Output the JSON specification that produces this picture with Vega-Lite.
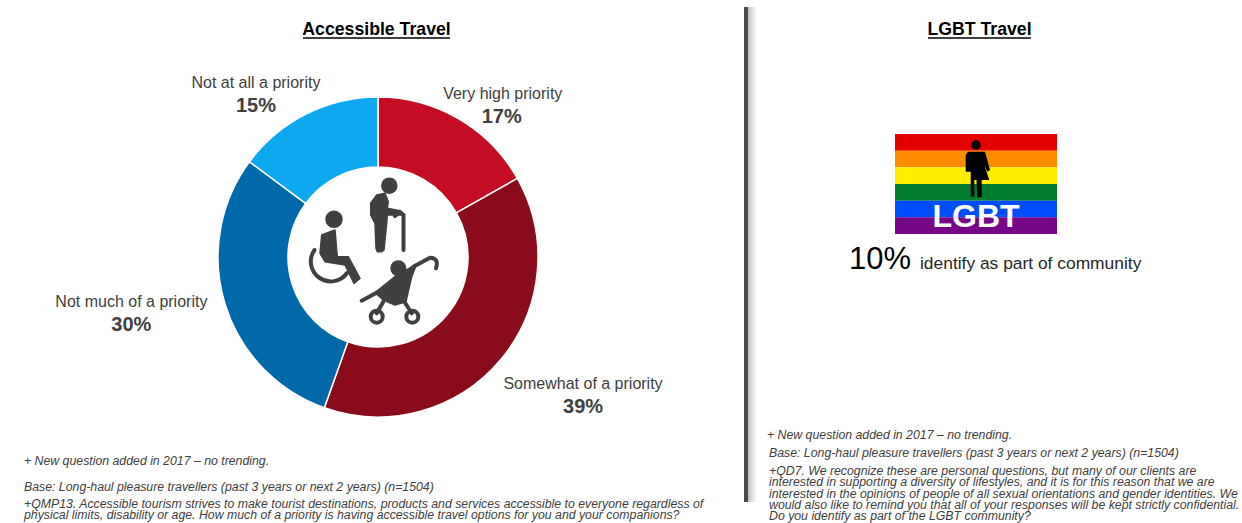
{
"$schema":"https://vega.github.io/schema/vega-lite/v6.json",
"background":"white",
"padding":{"left":12,"top":7,"right":0,"bottom":0},
"config":{"view":{"stroke":null},"text":{"font":"Liberation Sans"}},
"spacing":0,
"resolve":{"scale":{"color":"independent"}},
"hconcat":[
{"spacing":0,"vconcat":[
 {"width":732,"height":57,
  "data":{"values":[{"heading":"Accessible Travel"}]},
  "layer":[
   {"mark":{"type":"text","fontSize":17.7,"fontWeight":"bold","color":"#000000","baseline":"middle"},
    "encoding":{"x":{"datum":364.5,"type":"quantitative","scale":{"domain":[0,732],"nice":false},"axis":null},"y":{"datum":22.5,"type":"quantitative","scale":{"domain":[57,0],"nice":false},"axis":null},"text":{"field":"heading"}}},
   {"mark":{"type":"rule","color":"#000000","strokeWidth":1.5},
    "encoding":{"x":{"datum":291,"type":"quantitative","scale":{"domain":[0,732],"nice":false},"axis":null},"x2":{"datum":438},"y":{"datum":31,"type":"quantitative","scale":{"domain":[57,0],"nice":false},"axis":null}}}
  ]},
 {"width":732,"height":386,
  "data":{"values":[
   {"segment":"Very high priority","rank":1,"share":17,"label":"17%"},
   {"segment":"Somewhat of a priority","rank":2,"share":39,"label":"39%"},
   {"segment":"Not much of a priority","rank":3,"share":30,"label":"30%"},
   {"segment":"Not at all a priority","rank":4,"share":15,"label":"15%"}
  ]},
  "encoding":{"theta":{"field":"share","type":"quantitative","stack":true},"order":{"field":"rank","type":"ordinal"}},
  "layer":[
   {"mark":{"type":"arc","outerRadius":160,"innerRadius":90,"stroke":"#ffffff","strokeWidth":1.5},
    "encoding":{"color":{"field":"segment","type":"nominal","legend":null,"scale":{"domain":["Very high priority","Somewhat of a priority","Not much of a priority","Not at all a priority"],"range":["#C40D23","#8A0C1A","#0069AA","#0CA8F0"]}}}},
   {"mark":{"type":"text","radius":170,"dx":39,"dy":-16.5,"fontSize":16,"color":"#404040","baseline":"middle"},"encoding":{"text":{"condition":{"test":"datum.rank===1","field":"segment"},"value":""}}},
   {"mark":{"type":"text","radius":170,"dx":38,"dy":6.5,"fontSize":20,"fontWeight":"bold","color":"#404040","baseline":"middle"},"encoding":{"text":{"condition":{"test":"datum.rank===1","field":"label"},"value":""}}},
   {"mark":{"type":"text","radius":170,"dx":75,"dy":18,"fontSize":16,"color":"#404040","baseline":"middle"},"encoding":{"text":{"condition":{"test":"datum.rank===2","field":"segment"},"value":""}}},
   {"mark":{"type":"text","radius":170,"dx":75,"dy":41,"fontSize":20,"fontWeight":"bold","color":"#404040","baseline":"middle"},"encoding":{"text":{"condition":{"test":"datum.rank===2","field":"label"},"value":""}}},
   {"mark":{"type":"text","radius":170,"dx":-84,"dy":-5,"fontSize":16,"color":"#404040","baseline":"middle"},"encoding":{"text":{"condition":{"test":"datum.rank===3","field":"segment"},"value":""}}},
   {"mark":{"type":"text","radius":170,"dx":-84,"dy":18,"fontSize":20,"fontWeight":"bold","color":"#404040","baseline":"middle"},"encoding":{"text":{"condition":{"test":"datum.rank===3","field":"label"},"value":""}}},
   {"mark":{"type":"text","radius":170,"dx":-45.6,"dy":-22.5,"fontSize":16,"color":"#404040","baseline":"middle"},"encoding":{"text":{"condition":{"test":"datum.rank===4","field":"segment"},"value":""}}},
   {"mark":{"type":"text","radius":170,"dx":-45.6,"dy":0.5,"fontSize":20,"fontWeight":"bold","color":"#404040","baseline":"middle"},"encoding":{"text":{"condition":{"test":"datum.rank===4","field":"label"},"value":""}}},
   {"data":{"values":[{"icon":"access filled"}]},
    "mark":{"type":"point","filled":true,"opacity":1,"size":4,"fill":"#404040","stroke":"#404040","strokeWidth":1.5,"strokeJoin":"round","shape":"M18.8,-71.3 A7.5,7.5 0 1,1 3.8,-71.3 A7.5,7.5 0 1,1 18.8,-71.3 Z M-1.3,-62 L7,-63.7 L10.3,-55.3 L9.3,-48.7 L22,-46.3 L22.7,-42 L9.3,-42 L8.7,-33.7 L6,-7 L3.7,-5.3 L-0.7,-5.3 L-2,-8.7 L-3,-33.7 L-7.3,-42 L-7.3,-53.7 Z M-36,-37.7 A8,8 0 1,1 -52,-37.7 A8,8 0 1,1 -36,-37.7 Z M-56.3,-22 L-43,-27 L-40.7,-0.3 L-29.7,-0.3 L-18,21.3 L-24,26.3 L-33,8 L-53,4.7 L-58,-3.7 Z M27.6,11.3 A7.3,7.3 0 1,1 13,11.3 A7.3,7.3 0 1,1 27.6,11.3 Z M17,19.7 L38.7,7 L33.7,19.7 L28,44.7 L17,48 L5.3,43 L-3,35.7 Z"},
    "encoding":{"theta":null,"order":null}},
   {"data":{"values":[{"icon":"access outlines"}]},
    "mark":{"type":"point","filled":false,"opacity":1,"size":4,"stroke":"#404040","strokeWidth":4,"strokeCap":"round","shape":"M17,-41 L22,-45 L25.5,-42 L25.5,-7 M-63.5,-7 A19,19 0 1,0 -31,16 M35.3,9.7 L52,0.7 Q61.3,1 58,11.3 M-16.3,43.7 L3.7,33 M5.3,44.7 L-1.3,56.3 M25.3,43 L33.7,56.3 M4.7,59.7 A6,6 0 1,1 -7.3,59.7 A6,6 0 1,1 4.7,59.7 Z M40.3,59.7 A6,6 0 1,1 28.3,59.7 A6,6 0 1,1 40.3,59.7 Z"},
    "encoding":{"theta":null,"order":null}}
  ]},
 {"width":732,"height":73,
  "data":{"values":[
   {"part":"note","lines":["+ New question added in 2017 – no trending."]},
   {"part":"base","lines":["Base: Long-haul pleasure travellers (past 3 years or next 2 years) (n=1504)"]},
   {"part":"question","lines":["+QMP13. Accessible tourism strives to make tourist destinations, products and services accessible to everyone regardless of","physical limits, disability or age. How much of a priority is having accessible travel options for you and your companions?"]}
  ]},
  "encoding":{"x":{"datum":12,"type":"quantitative","scale":{"domain":[0,732],"nice":false},"axis":null},"text":{"field":"lines"}},
  "layer":[
   {"transform":[{"filter":"datum.part==='note'"}],"mark":{"type":"text","align":"left","baseline":"alphabetic","fontSize":12.3,"fontStyle":"italic","color":"#404040","dy":-21.5}},
   {"transform":[{"filter":"datum.part==='base'"}],"mark":{"type":"text","align":"left","baseline":"alphabetic","fontSize":12.3,"fontStyle":"italic","color":"#404040","dy":4}},
   {"transform":[{"filter":"datum.part==='question'"}],"mark":{"type":"text","align":"left","baseline":"alphabetic","fontSize":12.3,"fontStyle":"italic","color":"#404040","dy":21,"lineHeight":11}}
  ]}
]},
{"width":13,"height":495,"data":{"values":[{"item":"divider"}]},
 "mark":{"type":"rect","fill":{"gradient":"linear","x1":0,"x2":1,"y1":0,"y2":0,"stops":[{"offset":0,"color":"#4a4a4a"},{"offset":0.3,"color":"#4a4a4a"},{"offset":0.33,"color":"#c4c4c4"},{"offset":1,"color":"#ffffff"}]}},"encoding":{}},
{"spacing":0,"vconcat":[
 {"width":485,"height":127,
  "data":{"values":[{"heading":"LGBT Travel"}]},
  "layer":[
   {"mark":{"type":"text","fontSize":17.7,"fontWeight":"bold","color":"#000000","baseline":"middle"},
    "encoding":{"x":{"datum":222.5,"type":"quantitative","scale":{"domain":[0,485],"nice":false},"axis":null},"y":{"datum":22.5,"type":"quantitative","scale":{"domain":[127,0],"nice":false},"axis":null},"text":{"field":"heading"}}},
   {"mark":{"type":"rule","color":"#000000","strokeWidth":1.5},
    "encoding":{"x":{"datum":171,"type":"quantitative","scale":{"domain":[0,485],"nice":false},"axis":null},"x2":{"datum":274},"y":{"datum":31,"type":"quantitative","scale":{"domain":[127,0],"nice":false},"axis":null}}}
  ]},
 {"width":485,"height":100,
  "layer":[
   {"data":{"values":[{"stripe":"red"},{"stripe":"orange"},{"stripe":"yellow"},{"stripe":"green"},{"stripe":"blue"},{"stripe":"purple"}]},
    "mark":{"type":"rect"},
    "encoding":{"x":{"datum":138,"type":"quantitative","scale":{"domain":[0,485],"nice":false},"axis":null},"x2":{"datum":300},
     "y":{"field":"stripe","type":"nominal","sort":null,"axis":null,"scale":{"domain":["red","orange","yellow","green","blue","purple"],"paddingInner":0,"paddingOuter":0}},
     "color":{"field":"stripe","type":"nominal","legend":null,"scale":{"domain":["red","orange","yellow","green","blue","purple"],"range":["#E40000","#FF8C00","#FFEE00","#017D2B","#004DFF","#750787"]}}}},
   {"data":{"values":[{"icon":"person"}]},
    "mark":{"type":"point","filled":true,"opacity":1,"size":4,"color":"#000000","shape":"M4.7,-39 A4.7,4.7 0 1,1 -4.7,-39 A4.7,4.7 0 1,1 4.7,-39 Z M-8,-32.3 L9,-32.3 L14,-14 L11.3,-12.3 L8,-19.7 L13.3,-4 L5.7,-4 L5.7,12.7 L1.3,13.7 L0.5,-4 L-1.7,-4 L-1.7,12.7 L-5.3,12.7 L-5.3,-12.3 L-10.3,-12.3 L-10.3,-29 Z"},
    "encoding":{"x":{"datum":219,"type":"quantitative","scale":{"domain":[0,485],"nice":false},"axis":null}}},
   {"data":{"values":[{"flagText":"LGBT"}]},
    "mark":{"type":"text","fontSize":32,"fontWeight":"bold","color":"#ffffff","baseline":"middle","dy":33},
    "encoding":{"x":{"datum":219,"type":"quantitative","scale":{"domain":[0,485],"nice":false},"axis":null},"text":{"field":"flagText"}}}
  ]},
 {"width":485,"height":186,
  "data":{"values":[{"figure":"10%","rest":"identify as part of community"}]},
  "encoding":{"y":{"datum":27,"type":"quantitative","scale":{"domain":[186,0],"nice":false},"axis":null}},
  "layer":[
   {"mark":{"type":"text","align":"left","baseline":"middle","fontSize":31,"color":"#000000","dy":-2},
    "encoding":{"x":{"datum":92,"type":"quantitative","scale":{"domain":[0,485],"nice":false},"axis":null},"text":{"field":"figure"}}},
   {"mark":{"type":"text","align":"left","baseline":"middle","fontSize":17.4,"color":"#262626","dy":2},
    "encoding":{"x":{"datum":163,"type":"quantitative","scale":{"domain":[0,485],"nice":false},"axis":null},"text":{"field":"rest"}}}
  ]},
 {"width":485,"height":103,
  "data":{"values":[
   {"part":"note","lines":["+ New question added in 2017 – no trending."]},
   {"part":"base","lines":["Base: Long-haul pleasure travellers (past 3 years or next 2 years) (n=1504)"]},
   {"part":"question","lines":["+QD7. We recognize these are personal questions, but many of our clients are","interested in supporting a diversity of lifestyles, and it is for this reason that we are","interested in the opinions of people of all sexual orientations and gender identities. We","would also like to remind you that all of your responses will be kept strictly confidential.","Do you identify as part of the LGBT community?"]}
  ]},
  "encoding":{"text":{"field":"lines"}},
  "layer":[
   {"transform":[{"filter":"datum.part==='note'"}],"mark":{"type":"text","align":"left","baseline":"alphabetic","fontSize":12.3,"fontStyle":"italic","color":"#404040","dy":-33.5},"encoding":{"x":{"datum":10,"type":"quantitative","scale":{"domain":[0,485],"nice":false},"axis":null}}},
   {"transform":[{"filter":"datum.part==='base'"}],"mark":{"type":"text","align":"left","baseline":"alphabetic","fontSize":12.3,"fontStyle":"italic","color":"#404040","dy":-15.5},"encoding":{"x":{"datum":12,"type":"quantitative","scale":{"domain":[0,485],"nice":false},"axis":null}}},
   {"transform":[{"filter":"datum.part==='question'"}],"mark":{"type":"text","align":"left","baseline":"alphabetic","fontSize":12.3,"fontStyle":"italic","color":"#404040","dy":2.5,"lineHeight":11.3},"encoding":{"x":{"datum":12,"type":"quantitative","scale":{"domain":[0,485],"nice":false},"axis":null}}}
  ]}
]}
]
}
